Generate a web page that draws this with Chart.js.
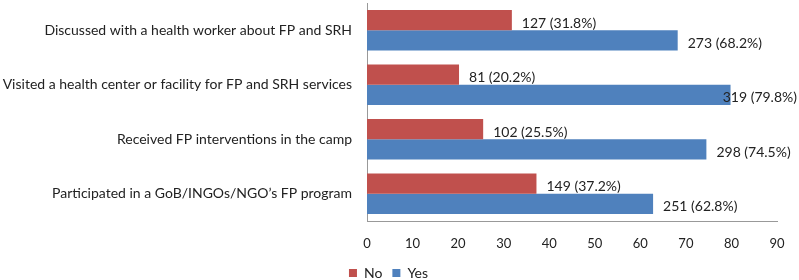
<!DOCTYPE html>
<html lang="en">
  <head>
    <meta charset="utf-8" />
    <title>FP and SRH services</title>
    <script src="https://cdn.jsdelivr.net/npm/chart.js"></script>
    <style>
      body { margin: 0; background: #fff; }
    </style>
  </head>
  <body>
    <canvas id="myChart" width="799" height="280"></canvas>
    <script>
      // data
      const categories = [
        'Discussed with a health worker about FP and SRH',
        'Visited a health center or facility for FP and SRH services',
        'Received FP interventions in the camp',
        'Participated in a GoB/INGOs/NGO\u2019s FP program',
      ]
      const noCounts = [127, 81, 102, 149]
      const noPercent = [31.8, 20.2, 25.5, 37.2]
      const yesCounts = [273, 319, 298, 251]
      const yesPercent = [68.2, 79.8, 74.5, 62.8]
      const xTicks = [0, 10, 20, 30, 40, 50, 60, 70, 80, 90]

      const font = 'Lato'

      // writes "count (pct%)" just right of every bar, kept inside the canvas
      const barLabels = {
        id: 'barLabels',
        afterDatasetsDraw(chart) {
          const ctx = chart.ctx
          ctx.save()
          ctx.font = '14px ' + font
          ctx.fillStyle = '#222'
          ctx.textBaseline = 'middle'
          chart.data.datasets.forEach((ds, i) => {
            const meta = chart.getDatasetMeta(i)
            meta.data.forEach((bar, j) => {
              const text = ds.counts[j] + ' (' + ds.data[j].toFixed(1) + '%)'
              const w = ctx.measureText(text).width
              let x = bar.x + 10
              if (x + w > chart.width - 2) x = chart.width - 2 - w
              ctx.fillText(text, x, bar.y + 3)
            })
          })
          ctx.restore()
        },
      }

      const config = {
        type: 'bar',
        data: {
          labels: categories,
          datasets: [
            {
              label: 'No',
              data: noPercent,
              counts: noCounts,
              backgroundColor: '#C0504D',
              barPercentage: 1,
              categoryPercentage: 0.74,
            },
            {
              label: 'Yes',
              data: yesPercent,
              counts: yesCounts,
              backgroundColor: '#4F81BD',
              barPercentage: 1,
              categoryPercentage: 0.74,
            },
          ],
        },
        options: {
          indexAxis: 'y',
          responsive: false,
          animation: false,
          layout: { padding: { top: 3, right: 22, bottom: -10, left: 0 } },
          plugins: {
            tooltip: { enabled: false },
            legend: {
              position: 'bottom',
              labels: {
                boxWidth: 8,
                boxHeight: 8,
                padding: 10,
                color: '#222',
                font: { family: font, size: 14 },
              },
            },
          },
          scales: {
            x: {
              min: 0,
              max: 90,
              afterBuildTicks(scale) {
                scale.ticks = xTicks.map((v) => ({ value: v }))
              },
              grid: { display: false, drawTicks: false },
              border: { display: true, color: '#999' },
              ticks: {
                padding: 15,
                color: '#222',
                font: { family: font, size: 13 },
              },
              afterFit(scale) {
                scale.height = 35
                scale.paddingLeft = 0
                scale.paddingRight = 0
              },
            },
            y: {
              grid: { display: false, drawTicks: false },
              border: { display: true, color: '#999' },
              ticks: {
                padding: 15,
                color: '#222',
                font: { family: font, size: 14 },
              },
              afterFit(scale) {
                scale.width = 367
                scale.paddingTop = 0
                scale.paddingBottom = 0
              },
            },
          },
        },
        plugins: [barLabels],
      }

      var myChart = new Chart(document.getElementById('myChart'), config)
    </script>
  </body>
</html>
